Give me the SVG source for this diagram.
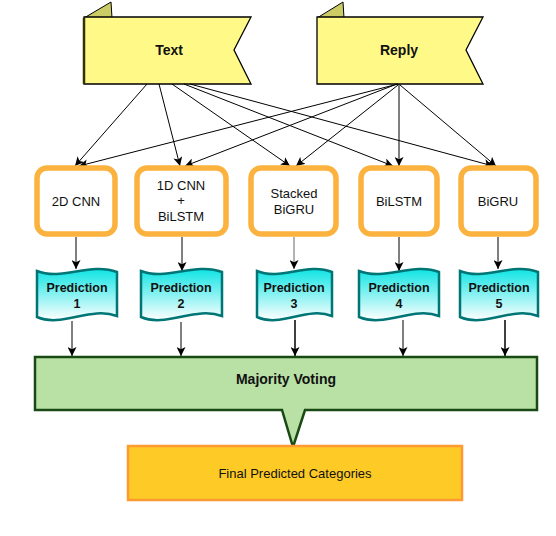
<svg xmlns="http://www.w3.org/2000/svg" width="556" height="536" viewBox="0 0 556 536">
<defs>
<marker id="ah" viewBox="0 0 10 10" refX="10" refY="5" markerWidth="9" markerHeight="9" markerUnits="userSpaceOnUse" orient="auto">
<path d="M0,0 L10,5 L0,10 L2.5,5 Z" fill="#000"/>
</marker>
<linearGradient id="tg" x1="0" y1="0" x2="0" y2="1">
<stop offset="0" stop-color="#10e4e4"/>
<stop offset="1" stop-color="#ffffff"/>
</linearGradient>
<style>
.flag{fill:#fffa88;stroke:#000;stroke-width:1.3}
.tab{fill:#cccc66;stroke:#000;stroke-width:1}
.shadow{stroke:#333300;stroke-width:2.5}
.model{fill:#fff;stroke:#fbb23e;stroke-width:5.5}
.tape{fill:url(#tg);stroke:#007575;stroke-width:2.5}
.lbl{font-family:"Liberation Sans",Arial,sans-serif;fill:#111;text-anchor:middle}
.b14{font-size:14px;font-weight:bold}
.n12{font-size:13px}
.b12{font-size:12.5px;font-weight:bold}
.edge{stroke:#000;stroke-width:1;fill:none;marker-end:url(#ah)}
</style>
</defs>

<g id="text-input">
<polygon class="tab" points="84,18 111,2 112,18"/>
<polygon class="flag" points="84,17 251,17 234,50 251,84 84,84"/>
<line class="shadow" x1="84" y1="18" x2="84" y2="84"/>
<text class="lbl b14" x="169" y="55">Text</text>
</g>
<g id="reply-input">
<polygon class="tab" points="317,18 343,2 344,18"/>
<polygon class="flag" points="317,17 483,17 466,50 483,84 317,84"/>
<text class="lbl b14" x="399" y="55">Reply</text>
</g>

<g id="edges">
<line class="edge" x1="147" y1="84" x2="75" y2="166"/>
<line class="edge" x1="159" y1="84" x2="180" y2="166"/>
<line class="edge" x1="172" y1="84" x2="290" y2="166"/>
<line class="edge" x1="184" y1="84" x2="393" y2="166"/>
<line class="edge" x1="190" y1="84" x2="493" y2="166"/>
<line class="edge" x1="398" y1="84" x2="79" y2="166"/>
<line class="edge" x1="397" y1="84" x2="185" y2="166"/>
<line class="edge" x1="398" y1="85" x2="296" y2="166"/>
<line class="edge" x1="399" y1="84" x2="399" y2="166"/>
<line class="edge" x1="400" y1="85" x2="496" y2="166"/>

<line class="edge" x1="76" y1="237" x2="76" y2="269"/>
<line class="edge" x1="182" y1="237" x2="182" y2="271"/>
<line class="edge" x1="294" y1="237" x2="294" y2="269" style="stroke:#666"/>
<line class="edge" x1="399" y1="237" x2="399" y2="271"/>
<line class="edge" x1="498" y1="237" x2="498" y2="269"/>

<line class="edge" x1="72" y1="321" x2="72" y2="356"/>
<line class="edge" x1="181" y1="322" x2="181" y2="356"/>
<line class="edge" x1="295" y1="320" x2="295" y2="356" style="stroke-width:1.5"/>
<line class="edge" x1="403" y1="320" x2="403" y2="356"/>
<line class="edge" x1="505" y1="320" x2="505" y2="356" style="stroke-width:1.5"/>
</g>

<g id="m-2dcnn">
<rect class="model" x="37" y="168" width="78" height="66" rx="10"/>
<text class="lbl n12" x="76" y="206">2D CNN</text>
</g>
<g id="m-1dcnn">
<rect class="model" x="137" y="168" width="89" height="66" rx="10"/>
<text class="lbl n12" x="181" y="190">1D CNN</text>
<text class="lbl n12" x="181" y="205">+</text>
<text class="lbl n12" x="181" y="221">BiLSTM</text>
</g>
<g id="m-stacked">
<rect class="model" x="251" y="168" width="85" height="66" rx="10"/>
<text class="lbl n12" x="294" y="198">Stacked</text>
<text class="lbl n12" x="294" y="214">BiGRU</text>
</g>
<g id="m-bilstm">
<rect class="model" x="361" y="168" width="76" height="66" rx="10"/>
<text class="lbl n12" x="399" y="206">BiLSTM</text>
</g>
<g id="m-bigru">
<rect class="model" x="461" y="168" width="75" height="66" rx="10"/>
<text class="lbl n12" x="498" y="206">BiGRU</text>
</g>

<g id="p1">
<path class="tape" d="M37,271 C62,281 90,262 117,272 L117,316 C90,306 62,328 37,317 Z"/>
<text class="lbl b12" x="77" y="292">Prediction</text>
<text class="lbl b12" x="77" y="308">1</text>
</g>
<g id="p2">
<path class="tape" d="M141,271 C166,281 195,262 222,272 L222,316 C195,306 166,328 141,317 Z"/>
<text class="lbl b12" x="181" y="292">Prediction</text>
<text class="lbl b12" x="181" y="308">2</text>
</g>
<g id="p3">
<path class="tape" d="M257,271 C281,281 307,262 332,272 L332,316 C307,306 281,328 257,317 Z"/>
<text class="lbl b12" x="294" y="292">Prediction</text>
<text class="lbl b12" x="294" y="308">3</text>
</g>
<g id="p4">
<path class="tape" d="M359,271 C385,281 413,262 439,272 L439,316 C413,306 385,328 359,317 Z"/>
<text class="lbl b12" x="399" y="292">Prediction</text>
<text class="lbl b12" x="399" y="308">4</text>
</g>
<g id="p5">
<path class="tape" d="M460,271 C485,281 512,262 538,272 L538,316 C512,306 485,328 460,317 Z"/>
<text class="lbl b12" x="499" y="292">Prediction</text>
<text class="lbl b12" x="499" y="308">5</text>
</g>

<g id="majority">
<path d="M35,357 L537,357 L537,410 L305,410 L293,447 L282,410 L35,410 Z" fill="#b9e0a5" stroke="#1a4a14" stroke-width="2.5"/>
<text class="lbl b14" x="286" y="384">Majority Voting</text>
</g>

<g id="final">
<rect x="128" y="446" width="334" height="54" fill="#fdca26" stroke="#fd9a33" stroke-width="2.5"/>
<text class="lbl" style="font-size:13px" x="295" y="478">Final Predicted Categories</text>
</g>
</svg>
